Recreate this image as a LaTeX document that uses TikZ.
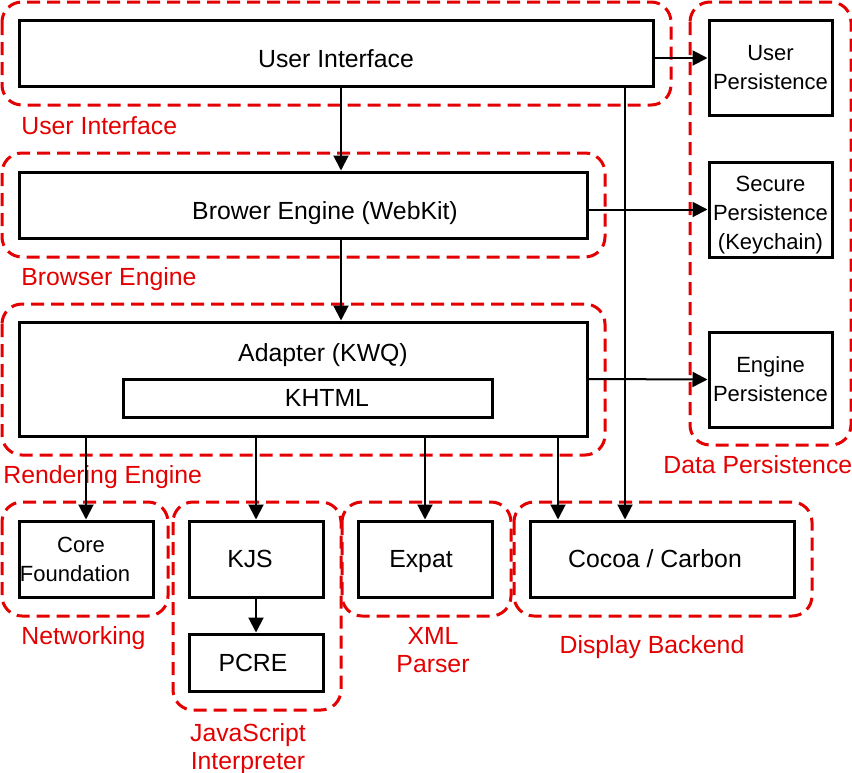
\documentclass[tikz,border=0pt]{standalone}
\usepackage{fontspec}
\setmainfont{Liberation Sans}
\usetikzlibrary{arrows.meta}
\tikzset{>={Triangle[length=7.5pt,width=7.5pt]}}
\definecolor{grpred}{RGB}{228,0,0}
\newcommand{\bigfont}{\fontsize{12.4}{14}\selectfont}
\newcommand{\smallfont}{\fontsize{11}{14.5}\selectfont}

\begin{document}
\begin{tikzpicture}[x=0.5pt, y=-0.5pt,
  box/.style={draw, line width=1.5pt, inner sep=0pt, font=\bigfont},
  capbox/.style={box, text height=8.9pt, text depth=0pt},
  smallbox/.style={box, align=center, font=\smallfont, minimum width=61.5pt, minimum height=47.5pt},
  lowbox/.style={capbox, minimum width=67pt, minimum height=38pt},
  group/.style={draw=grpred, line width=1.5pt, dash pattern=on 6.5pt off 3.5pt, rounded corners=10pt},
  grouplabel/.style={text=grpred, inner sep=0pt, font=\bigfont, align=center},
  link/.style={->, line width=1pt}]
\useasboundingbox (0,0) rectangle (852,772);

% layers
\draw[group] (2,2) rectangle (671,105);
\draw[group] (2,153) rectangle (605,257);
\draw[group] (2,304) rectangle (605,455);
\draw[group] (690,2) rectangle (851,445);
\draw[group] (2,502) rectangle (168,616);
\draw[group] (173,502) rectangle (341,710);
\draw[group] (342,502) rectangle (511,616);
\draw[group] (514,502) rectangle (812,616);

\node[grouplabel, anchor=base west] (uilabel) at (21,134) {User Interface};
\node[grouplabel, anchor=base west] (belabel) at (21,285) {Browser Engine};
\node[grouplabel, anchor=base west] (relabel) at (3,483) {Rendering Engine};
\node[grouplabel, anchor=base west] (dplabel) at (663,473) {Data Persistence};
\node[grouplabel, anchor=base west] (netlabel) at (21,644) {Networking};
\node[grouplabel, anchor=north] (xmllabel) at (433,627) {XML\\Parser};
\node[grouplabel, anchor=base] (displabel) at (652,653) {Display Backend};
\node[grouplabel, anchor=north] (jslabel) at (248,723) {JavaScript\\Interpreter};

% components
\node[capbox, text height=14.9pt, minimum width=317pt, minimum height=33pt] (ui) at (336,53) {User Interface};
\node[capbox, text height=14.9pt, minimum width=284pt, minimum height=33pt] (browser) at (303,205) {\hspace*{22pt}Brower Engine (WebKit)};
\node[capbox, text depth=26pt, minimum width=284pt, minimum height=57pt] (adapter) at (303,379) {\hspace*{20pt}Adapter (KWQ)};
\node[capbox, minimum width=184.5pt, minimum height=19pt] (khtml) at (307.5,398) {\hspace*{19.5pt}KHTML};

\node[smallbox] (userp) at (770.5,67.5) {User\\Persistence};
\node[smallbox] (securep) at (770.5,209.5) {\rule{0pt}{13pt}Secure\\Persistence\\(Keychain)};
\node[smallbox] (enginep) at (770.5,379.5) {Engine\\Persistence};

\node[smallbox, minimum width=67pt, minimum height=38pt] (core) at (86,559) {Core\hspace*{5pt}\\Foundation\hspace*{11pt}};
\node[lowbox] (kjs) at (256,559) {KJS\hspace*{6pt}};
\node[lowbox, minimum height=28.5pt] (pcre) at (256,662.5) {PCRE\hspace*{3pt}};
\node[lowbox] (expat) at (425,559) {Expat\hspace*{4pt}};
\node[lowbox, minimum width=132pt] (cocoa) at (662,559) {Cocoa / Carbon\hspace*{7pt}};

\path[link]
([yshift=-2.5pt]ui.east) edge ([yshift=-2.5pt]ui.east -| userp.west)
(browser.east |- securep.west) edge (securep.west)
(adapter.east) edge (enginep.west)
([xshift=2.5pt]ui.south) edge ([xshift=2.5pt]ui.south |- browser.north)
([xshift=19pt]browser.south) edge ([xshift=19pt]adapter.north)
(core.north |- adapter.south) edge (core.north)
(kjs.north |- adapter.south) edge (kjs.north)
(expat.north |- adapter.south) edge (expat.north)
([xshift=-52pt]cocoa.north |- adapter.south) edge ([xshift=-52pt]cocoa.north)
([xshift=-18.5pt]cocoa.north |- ui.south) edge ([xshift=-18.5pt]cocoa.north)
(kjs.south) edge (pcre.north)
;
\end{tikzpicture}
\end{document}
